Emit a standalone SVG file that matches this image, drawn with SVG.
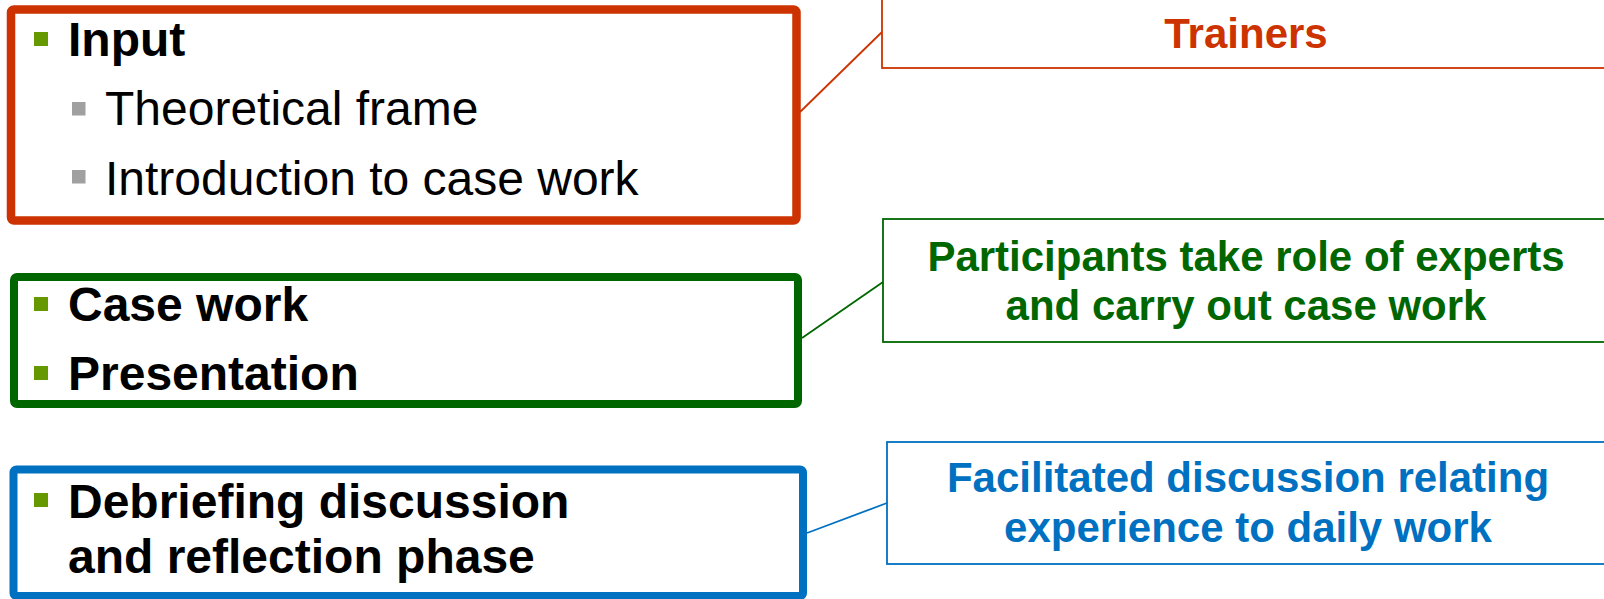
<svg xmlns="http://www.w3.org/2000/svg" width="1604" height="599" viewBox="0 0 1604 599">
  <style>
    .phase { fill: #ffffff; }
    .thin { fill: #ffffff; stroke-width: 1.8; }
    .link { fill: none; stroke-width: 1.8; }
    .red { stroke: #CC3300; }
    .green { stroke: #006600; }
    .blue { stroke: #0070C0; }
    .item { font-family: "Liberation Sans", Arial, sans-serif; font-size: 48px; fill: #000000; }
    .b { font-weight: bold; }
    .note { font-family: "Liberation Sans", Arial, sans-serif; font-size: 42px; font-weight: bold; text-anchor: middle; }
    .lvl1 { fill: #669900; }
    .lvl2 { fill: #A0A0A0; }
  </style>

  <!-- connectors between phase boxes and role boxes -->
  <g id="connectors">
    <line class="link red" x1="800" y1="112" x2="882" y2="32"/>
    <line class="link green" x1="802" y1="338" x2="883" y2="282"/>
    <line class="link blue" x1="807" y1="533" x2="887" y2="503"/>
  </g>

  <!-- phase 1: input -->
  <g id="input">
    <rect class="phase red" x="11" y="9.5" width="785.5" height="211" rx="3" stroke-width="8.5"/>
    <rect class="lvl1" x="34" y="32" width="14" height="14"/>
    <text class="item b" x="68" y="56">Input</text>
    <rect class="lvl2" x="72" y="102" width="13.5" height="13.5"/>
    <text class="item" x="105" y="125">Theoretical frame</text>
    <rect class="lvl2" x="72" y="170" width="13.5" height="13.5"/>
    <text class="item" x="105" y="195">Introduction to case work</text>
  </g>

  <!-- phase 2: case work -->
  <g id="casework">
    <rect class="phase green" x="14" y="277" width="784" height="127" rx="3" stroke-width="8"/>
    <rect class="lvl1" x="34" y="297" width="14" height="14"/>
    <text class="item b" x="68" y="321">Case work</text>
    <rect class="lvl1" x="34" y="366" width="14" height="14"/>
    <text class="item b" x="68" y="390">Presentation</text>
  </g>

  <!-- phase 3: debriefing -->
  <g id="debriefing">
    <rect class="phase blue" x="13.5" y="469.5" width="789.5" height="126.5" rx="3" stroke-width="8"/>
    <rect class="lvl1" x="34" y="493" width="14" height="14"/>
    <text class="item b" x="68" y="518">Debriefing discussion</text>
    <text class="item b" x="68" y="573">and reflection phase</text>
  </g>

  <!-- role boxes -->
  <g id="trainers">
    <rect class="thin red" x="882" y="-5" width="727" height="73"/>
    <text class="note" x="1246" y="48" fill="#CC3300">Trainers</text>
  </g>

  <g id="participants">
    <rect class="thin green" x="883" y="219" width="726" height="123"/>
    <text class="note" x="1246" y="271" fill="#006600">Participants take role of experts</text>
    <text class="note" x="1246" y="320" fill="#006600">and carry out case work</text>
  </g>

  <g id="facilitation">
    <rect class="thin blue" x="887" y="442" width="722" height="122"/>
    <text class="note" x="1248" y="492" fill="#0070C0">Facilitated discussion relating</text>
    <text class="note" x="1248" y="542" fill="#0070C0">experience to daily work</text>
  </g>
</svg>
